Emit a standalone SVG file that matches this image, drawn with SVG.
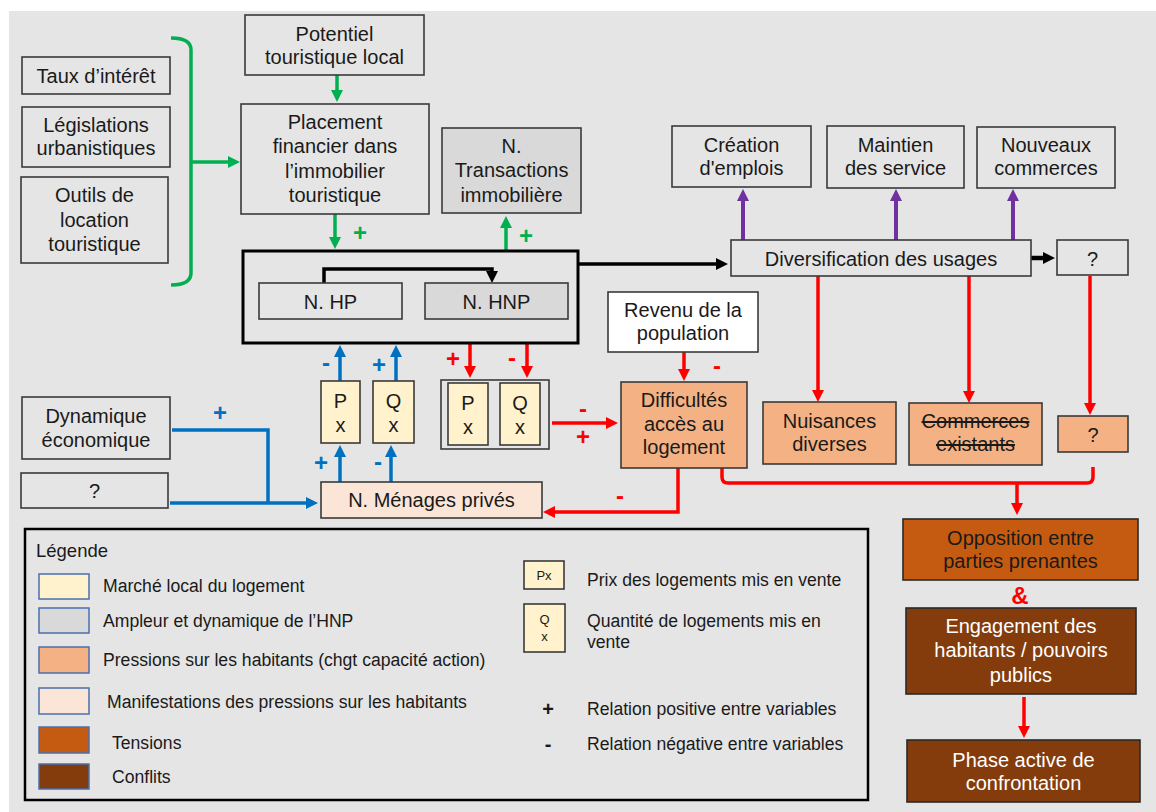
<svg xmlns="http://www.w3.org/2000/svg" width="1156" height="812" viewBox="0 0 1156 812">
<style>
.bg{fill:#e5e5e5}
.n{fill:#e5e5e5;stroke:#3a3a3a;stroke-width:1.6}
.g{fill:#d9d9d9;stroke:#3a3a3a;stroke-width:1.6}
.w{fill:#ffffff;stroke:#3a3a3a;stroke-width:1.6}
.y{fill:#fff2cc;stroke:#3a3a3a;stroke-width:1.6}
.o{fill:#f4b183;stroke:#3a3a3a;stroke-width:1.6}
.p{fill:#fbe5d6;stroke:#3a3a3a;stroke-width:1.6}
.ten{fill:#c55a11;stroke:#2a2a2a;stroke-width:1.6}
.con{fill:#843c0c;stroke:#2a2a2a;stroke-width:1.6}
.sw{stroke:#4a6fb0;stroke-width:1.5}
.t{font-family:"Liberation Sans",Arial,sans-serif;font-size:20px;text-anchor:middle;fill:#1a1a1a}
.tw{fill:#ffffff}
.l{font-family:"Liberation Sans",Arial,sans-serif;font-size:17.6px;fill:#1a1a1a}
.s{font-family:"Liberation Sans",Arial,sans-serif;font-size:24px;font-weight:bold;text-anchor:middle}
.sg{fill:#00b050}.sb{fill:#0070c0}.sr{fill:#ff0000}.sk{fill:#1a1a1a}
.cg{fill:none;stroke:#00b050;stroke-width:3.5}
.cb{fill:none;stroke:#0070c0;stroke-width:3.5}
.cr{fill:none;stroke:#ff0000;stroke-width:3.5}
.cp{fill:none;stroke:#7030a0;stroke-width:4}
.ck{fill:none;stroke:#000000;stroke-width:3.5}
</style>
<defs>
<marker id="ag" viewBox="0 0 12 12" markerWidth="12" markerHeight="12" markerUnits="userSpaceOnUse" refX="5" refY="6" orient="auto"><path d="M0,0 L12,6 L0,12 z" fill="#00b050"/></marker>
<marker id="ab" viewBox="0 0 12 12" markerWidth="12" markerHeight="12" markerUnits="userSpaceOnUse" refX="5" refY="6" orient="auto"><path d="M0,0 L12,6 L0,12 z" fill="#0070c0"/></marker>
<marker id="ar" viewBox="0 0 12 12" markerWidth="12" markerHeight="12" markerUnits="userSpaceOnUse" refX="5" refY="6" orient="auto"><path d="M0,0 L12,6 L0,12 z" fill="#ff0000"/></marker>
<marker id="ap" viewBox="0 0 12 12" markerWidth="12" markerHeight="12" markerUnits="userSpaceOnUse" refX="5" refY="6" orient="auto"><path d="M0,0 L12,6 L0,12 z" fill="#7030a0"/></marker>
<marker id="ak" viewBox="0 0 12 12" markerWidth="12" markerHeight="12" markerUnits="userSpaceOnUse" refX="5" refY="6" orient="auto"><path d="M0,0 L12,6 L0,12 z" fill="#000000"/></marker>
</defs>

<rect x="0" y="0" width="1156" height="812" fill="#ffffff"/>
<rect class="bg" x="9" y="11" width="1147" height="801"/>

<!-- connectors -->
<g id="connectors">
<path class="cg" d="M171,38 Q191,38 191,50 L191,273 Q191,285 171,285"/>
<path class="cg" d="M191,162 L233,162" marker-end="url(#ag)"/>
<path class="cg" d="M337,75 L337,95" marker-end="url(#ag)"/>
<path class="cg" d="M335,214 L335,242" marker-end="url(#ag)"/>
<path class="cg" d="M506,251 L506,223" marker-end="url(#ag)"/>

<path class="ck" d="M324,283 L324,269 L492,269 L492,276" marker-end="url(#ak)"/>
<path class="ck" d="M578,264 L721,264" marker-end="url(#ak)"/>
<path class="ck" d="M1031,258 L1048,258" style="stroke-width:4.5" marker-end="url(#ak)"/>

<path class="cp" d="M743,240 L743,196" marker-end="url(#ap)"/>
<path class="cp" d="M896,240 L896,196" marker-end="url(#ap)"/>
<path class="cp" d="M1013,240 L1013,196" marker-end="url(#ap)"/>

<path class="cr" d="M818,276 L818,395" marker-end="url(#ar)"/>
<path class="cr" d="M969,276 L969,396" marker-end="url(#ar)"/>
<path class="cr" d="M1090,276 L1090,408" marker-end="url(#ar)"/>
<path class="cr" d="M470,343 L470,371" marker-end="url(#ar)"/>
<path class="cr" d="M527,343 L527,371" marker-end="url(#ar)"/>
<path class="cr" d="M552,423 L611,423" marker-end="url(#ar)"/>
<path class="cr" d="M684,352 L684,374" marker-end="url(#ar)"/>
<path class="cr" d="M678,468 L678,512 L550,512" marker-end="url(#ar)"/>
<path class="cr" d="M722,468 L722,477 Q722,483 728,483 L1087,483 Q1093,483 1093,477 L1093,467"/>
<path class="cr" d="M1017,483 L1017,508" marker-end="url(#ar)"/>
<path class="cr" d="M1024,697 L1024,731" marker-end="url(#ar)"/>

<path class="cb" d="M340,381 L340,352" marker-end="url(#ab)"/>
<path class="cb" d="M396,381 L396,352" marker-end="url(#ab)"/>
<path class="cb" d="M340,482 L340,452" marker-end="url(#ab)"/>
<path class="cb" d="M391,482 L391,452" marker-end="url(#ab)"/>
<path class="cb" d="M172,430 L268,430 L268,503"/>
<path class="cb" d="M170,503 L311,503" marker-end="url(#ab)"/>

<text class="s sg" x="360" y="241">+</text>
<text class="s sg" x="526" y="244">+</text>
<text class="s sb" x="326" y="371">-</text>
<text class="s sb" x="379" y="373">+</text>
<text class="s sb" x="321" y="471">+</text>
<text class="s sb" x="378" y="470">-</text>
<text class="s sb" x="220" y="421">+</text>
<text class="s sr" x="453" y="367">+</text>
<text class="s sr" x="512" y="366">-</text>
<text class="s sr" x="583" y="417">-</text>
<text class="s sr" x="583" y="445">+</text>
<text class="s sr" x="717" y="374">-</text>
<text class="s sr" x="620" y="504">-</text>
<text class="s sr" x="1020" y="604">&amp;</text>
</g>

<!-- nodes -->
<g id="potentiel"><rect class="n" x="245" y="15" width="179" height="60"/><text class="t" x="334.5" y="41">Potentiel</text><text class="t" x="334.5" y="64">touristique local</text></g>
<g id="taux"><rect class="n" x="22" y="57" width="148" height="37"/><text class="t" x="96" y="83">Taux d’intérêt</text></g>
<g id="legislations"><rect class="n" x="22" y="107" width="148" height="60"/><text class="t" x="96" y="132">Législations</text><text class="t" x="96" y="155">urbanistiques</text></g>
<g id="outils"><rect class="n" x="21" y="177" width="147" height="86"/><text class="t" x="94.5" y="202">Outils de</text><text class="t" x="94.5" y="227">location</text><text class="t" x="94.5" y="251">touristique</text></g>
<g id="placement"><rect class="n" x="241" y="104" width="188" height="110"/><text class="t" x="335" y="129">Placement</text><text class="t" x="335" y="153">financier dans</text><text class="t" x="335" y="178">l’immobilier</text><text class="t" x="335" y="202">touristique</text></g>
<g id="transactions"><rect class="g" x="442" y="128" width="139" height="85"/><text class="t" x="511.5" y="153">N.</text><text class="t" x="511.5" y="177">Transactions</text><text class="t" x="511.5" y="202">immobilière</text></g>

<g id="parc"><rect x="243" y="251" width="335" height="92" fill="none" stroke="#000" stroke-width="3"/></g>
<g id="hp"><rect class="n" x="259" y="283" width="143" height="36"/><text class="t" x="330.5" y="309">N. HP</text></g>
<g id="hnp"><rect class="g" x="425" y="283" width="143" height="36"/><text class="t" x="496.5" y="309">N. HNP</text></g>

<g id="creation"><rect class="n" x="672" y="126" width="139" height="61"/><text class="t" x="741.5" y="152">Création</text><text class="t" x="741.5" y="175">d'emplois</text></g>
<g id="maintien"><rect class="n" x="827" y="126" width="137" height="62"/><text class="t" x="895.5" y="152">Maintien</text><text class="t" x="895.5" y="175">des service</text></g>
<g id="nouveaux"><rect class="n" x="977" y="127" width="138" height="61"/><text class="t" x="1046" y="152">Nouveaux</text><text class="t" x="1046" y="175">commerces</text></g>
<g id="diversification"><rect class="n" x="731" y="240" width="300" height="36"/><text class="t" x="881" y="266">Diversification des usages</text></g>
<g id="q1"><rect class="n" x="1057" y="240" width="71" height="35"/><text class="t" x="1092.5" y="266">?</text></g>

<g id="revenu"><rect class="w" x="608" y="292" width="150" height="60"/><text class="t" x="683" y="317">Revenu de la</text><text class="t" x="683" y="340">population</text></g>
<g id="difficultes"><rect class="o" x="621" y="382" width="126" height="86"/><text class="t" x="684" y="407">Difficultés</text><text class="t" x="684" y="431">accès au</text><text class="t" x="684" y="454">logement</text></g>

<g id="px1"><rect class="y" x="321" y="381" width="39" height="62"/><text class="t" x="340.5" y="408">P</text><text class="t" x="340.5" y="432">x</text></g>
<g id="qx1"><rect class="y" x="373" y="381" width="41" height="62"/><text class="t" x="393.5" y="408">Q</text><text class="t" x="393.5" y="432">x</text></g>
<g id="pqgroup"><rect x="441" y="380" width="108" height="69" fill="none" stroke="#3a3a3a" stroke-width="1.6"/></g>
<g id="px2"><rect class="y" x="448" y="383" width="40" height="62"/><text class="t" x="468" y="410">P</text><text class="t" x="468" y="434">x</text></g>
<g id="qx2"><rect class="y" x="500" y="383" width="40" height="62"/><text class="t" x="520" y="410">Q</text><text class="t" x="520" y="434">x</text></g>
<g id="menages"><rect class="p" x="321" y="482" width="221" height="36"/><text class="t" x="431.5" y="507">N. Ménages privés</text></g>

<g id="dynamique"><rect class="n" x="22" y="397" width="148" height="62"/><text class="t" x="96" y="423">Dynamique</text><text class="t" x="96" y="447">économique</text></g>
<g id="q2"><rect class="n" x="21" y="473" width="147" height="35"/><text class="t" x="94.5" y="498">?</text></g>

<g id="nuisances"><rect class="o" x="763" y="402" width="133" height="62"/><text class="t" x="829.5" y="428">Nuisances</text><text class="t" x="829.5" y="451">diverses</text></g>
<g id="commerces"><rect class="o" x="909" y="403" width="133" height="62"/><text class="t" x="975.5" y="428" text-decoration="line-through">Commerces</text><text class="t" x="975.5" y="451" text-decoration="line-through">existants</text></g>
<g id="q3"><rect class="o" x="1058" y="416" width="70" height="36"/><text class="t" x="1093" y="442">?</text></g>

<g id="opposition"><rect class="ten" x="903" y="519" width="235" height="61"/><text class="t" x="1020.5" y="545">Opposition entre</text><text class="t" x="1020.5" y="568">parties prenantes</text></g>
<g id="engagement"><rect class="con" x="906" y="608" width="230" height="86"/><text class="t tw" x="1021" y="633">Engagement des</text><text class="t tw" x="1021" y="657">habitants / pouvoirs</text><text class="t tw" x="1021" y="682">publics</text></g>
<g id="phase"><rect class="con" x="907" y="740" width="233" height="62"/><text class="t tw" x="1023.5" y="767">Phase active de</text><text class="t tw" x="1023.5" y="790">confrontation</text></g>

<!-- legend -->
<g id="legend">
<rect x="25" y="529" width="843" height="271" fill="none" stroke="#000" stroke-width="2.5"/>
<text class="l" x="36" y="557" style="font-size:18.5px">Légende</text>
<rect class="sw" x="39" y="574" width="50" height="25" fill="#fff2cc"/>
<text class="l" x="103" y="592">Marché local du logement</text>
<rect class="sw" x="39" y="608" width="50" height="25" fill="#d9d9d9"/>
<text class="l" x="103" y="627">Ampleur et dynamique de l’HNP</text>
<rect class="sw" x="39" y="647" width="50" height="26" fill="#f4b183"/>
<text class="l" x="103" y="666">Pressions sur les habitants (chgt capacité action)</text>
<rect class="sw" x="39" y="688" width="50" height="26" fill="#fbe5d6"/>
<text class="l" x="107" y="708">Manifestations des pressions sur les habitants</text>
<rect class="sw" x="39" y="727" width="50" height="26" fill="#c55a11"/>
<text class="l" x="112" y="749">Tensions</text>
<rect class="sw" x="39" y="764" width="50" height="25" fill="#843c0c"/>
<text class="l" x="112" y="783">Conflits</text>

<rect class="y" x="524" y="561" width="40" height="28"/>
<text class="t" x="544" y="580" style="font-size:13px">Px</text>
<text class="l" x="587" y="586">Prix des logements mis en vente</text>
<rect class="y" x="524" y="604" width="41" height="48"/>
<text class="t" x="544.5" y="624" style="font-size:13px">Q</text>
<text class="t" x="544.5" y="641" style="font-size:13px">x</text>
<text class="l" x="587" y="627">Quantité de logements mis en</text>
<text class="l" x="587" y="648">vente</text>
<text class="s sk" x="548" y="716" style="font-size:20px">+</text>
<text class="l" x="587" y="715">Relation positive entre variables</text>
<text class="s sk" x="548" y="751" style="font-size:20px">-</text>
<text class="l" x="587" y="750">Relation négative entre variables</text>
</g>
</svg>
